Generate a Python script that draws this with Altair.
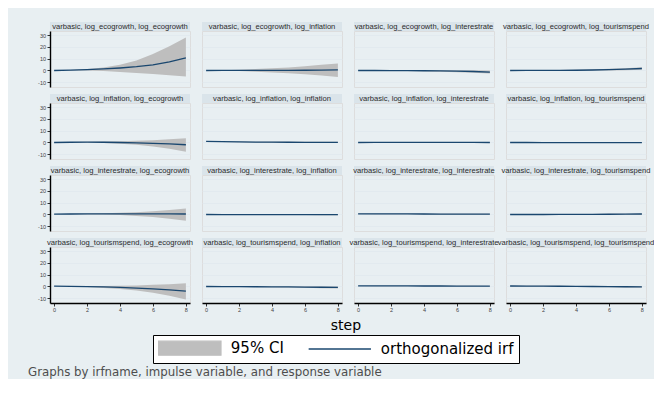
import altair as alt
import pandas as pd

STEPS = [0, 1, 2, 3, 4, 5, 6, 7, 8]
VARS = ["log_ecogrowth", "log_inflation", "log_interestrate", "log_tourismspend"]
SERIES = ["95% CI", "orthogonalized irf"]
Y_TICKS = [-10, 0, 10, 20, 30]
X_TICKS = [0, 2, 4, 6, 8]
NOTE = "Graphs by irfname, impulse variable, and response variable"

# rows = impulse, cols = response; 9 steps each
IRF = [
    [[0, 0.3, 0.7, 1.3, 2.1, 3.2, 4.8, 7.3, 10.8],
     [0, 0.05, 0.1, 0.1, 0.1, 0.15, 0.2, 0.3, 0.5],
     [0, 0, -0.05, -0.1, -0.2, -0.35, -0.55, -0.85, -1.3],
     [0, 0.02, 0.05, 0.1, 0.2, 0.4, 0.7, 1.1, 1.7]],
    [[0, 0.2, 0.3, 0.2, 0.0, -0.3, -0.7, -1.2, -1.9],
     [1.0, 0.7, 0.5, 0.35, 0.25, 0.2, 0.15, 0.1, 0.1],
     [0, 0.05, 0.05, 0.05, 0.05, 0.04, 0.03, 0.02, 0.0],
     [0, -0.02, -0.05, -0.05, -0.05, -0.05, -0.05, -0.05, -0.05]],
    [[0.3, 0.4, 0.45, 0.5, 0.5, 0.5, 0.5, 0.45, 0.4],
     [0, -0.05, -0.1, -0.1, -0.1, -0.1, -0.1, -0.1, -0.1],
     [0.6, 0.55, 0.5, 0.45, 0.4, 0.38, 0.35, 0.32, 0.3],
     [0, 0, 0, 0.05, 0.1, 0.15, 0.2, 0.3, 0.4]],
    [[0.3, 0.1, -0.1, -0.4, -0.8, -1.3, -2.0, -2.9, -3.9],
     [0, -0.05, -0.1, -0.2, -0.3, -0.4, -0.5, -0.65, -0.8],
     [0.5, 0.5, 0.45, 0.45, 0.4, 0.4, 0.35, 0.35, 0.3],
     [0.4, 0.35, 0.3, 0.2, 0.1, 0.0, -0.1, -0.2, -0.3]],
]
LO = [
    [[0, 0, -0.1, -0.5, -1.2, -2.1, -3.0, -4.0, -5.0],
     [0, -0.2, -0.5, -1.0, -1.6, -2.3, -3.2, -4.3, -5.5],
     [0, -0.1, -0.3, -0.45, -0.7, -1.0, -1.4, -1.9, -2.6],
     [0, -0.05, -0.1, -0.15, -0.2, -0.1, 0, 0.2, 0.6]],
    [[0, 0, -0.1, -0.5, -1.1, -2.0, -3.3, -5.2, -7.8],
     [0.8, 0.45, 0.2, 0.0, -0.15, -0.2, -0.3, -0.4, -0.4],
     [0, -0.15, -0.2, -0.25, -0.3, -0.32, -0.35, -0.38, -0.4],
     [0, -0.15, -0.2, -0.25, -0.3, -0.32, -0.35, -0.38, -0.4]],
    [[0.3, 0.2, 0.1, -0.1, -0.5, -1.2, -2.2, -3.6, -5.3],
     [0, -0.2, -0.3, -0.35, -0.4, -0.45, -0.5, -0.55, -0.6],
     [0.4, 0.3, 0.2, 0.15, 0.1, 0.05, 0.0, -0.05, -0.1],
     [0, -0.1, -0.15, -0.15, -0.15, -0.15, -0.15, -0.1, -0.1]],
    [[0.3, -0.1, -0.5, -1.2, -2.2, -3.5, -5.3, -7.8, -11.0],
     [0, -0.15, -0.3, -0.5, -0.7, -0.9, -1.1, -1.4, -1.7],
     [0.35, 0.3, 0.25, 0.25, 0.2, 0.2, 0.15, 0.15, 0.1],
     [0.2, 0.1, 0.0, -0.15, -0.3, -0.45, -0.6, -0.75, -0.9]],
]
HI = [
    [[0, 0.5, 1.3, 2.6, 4.8, 8.5, 14.0, 20.5, 28.0],
     [0, 0.3, 0.7, 1.2, 1.8, 2.6, 3.6, 4.8, 6.0],
     [0, 0.1, 0.2, 0.25, 0.3, 0.3, 0.3, 0.2, 0.0],
     [0, 0.1, 0.2, 0.35, 0.6, 0.9, 1.4, 2.0, 2.8]],
    [[0, 0.4, 0.7, 0.9, 1.1, 1.4, 1.9, 2.7, 3.7],
     [1.2, 0.95, 0.8, 0.7, 0.65, 0.6, 0.6, 0.6, 0.6],
     [0, 0.25, 0.3, 0.35, 0.4, 0.4, 0.4, 0.42, 0.4],
     [0, 0.1, 0.1, 0.15, 0.2, 0.22, 0.25, 0.28, 0.3]],
    [[0.3, 0.6, 0.8, 1.0, 1.4, 2.0, 2.8, 3.8, 5.0],
     [0, 0.1, 0.1, 0.15, 0.2, 0.25, 0.3, 0.35, 0.4],
     [0.8, 0.8, 0.8, 0.75, 0.7, 0.7, 0.7, 0.7, 0.7],
     [0, 0.1, 0.15, 0.25, 0.35, 0.45, 0.55, 0.7, 0.9]],
    [[0.3, 0.3, 0.35, 0.45, 0.6, 0.9, 1.4, 2.0, 2.8],
     [0, 0.05, 0.1, 0.1, 0.1, 0.1, 0.1, 0.1, 0.1],
     [0.65, 0.7, 0.65, 0.65, 0.6, 0.6, 0.55, 0.55, 0.5],
     [0.6, 0.6, 0.6, 0.55, 0.5, 0.45, 0.4, 0.35, 0.3]],
]

BG = "#e8eff2"
STRIP = "#dae4ea"
GRID = "#dfe8ed"
NAVY = "#1a476f"
GRAY = "#bebebe"
FONT = "DejaVu Sans"
SFONT = "Liberation Sans"
W, H = 140, 56

RECT_PATH = "M-4.45,-1H4.45V1H-4.45Z"
LINE_PATH = "M-4.45,0H4.45"

xs = alt.Scale(domain=[-0.25, 8.25], nice=False, zero=False)
ys = alt.Scale(domain=[-14, 33.5], nice=False, zero=False)

LEG = alt.Legend(
    title=None, orient="none", legendX=103, legendY=304, direction="horizontal",
    fillColor="white", strokeColor="black", padding=5,
    symbolSize=196, symbolStrokeWidth=1.3, symbolOffset=23.8,
    labelOffset=33, columnPadding=22, labelFontSize=15, labelFont=FONT,
    labelColor="black",
)


def y_axis(c):
    if c == 0:
        return alt.Axis(values=Y_TICKS, title=None, labelFontSize=5.5, labelColor="#444",
                        labelExpr="'' + datum.value", labelOverlap=False, labelFlush=False,
                        tickColor="black", tickSize=3,
                        tickWidth=0.8, domainColor="black", domainWidth=1.4,
                        gridColor=GRID, gridWidth=0.8, labelPadding=1.5, labelFont=SFONT)
    return alt.Axis(values=Y_TICKS, title=None, labels=False, ticks=False,
                    domain=False, gridColor=GRID, gridWidth=0.8)


def x_axis(r):
    if r == 3:
        return alt.Axis(values=X_TICKS, title=None, grid=False, labelFontSize=5.5,
                        labelColor="#444", labelOverlap=False, labelFlush=False,
                        tickColor="black", tickSize=3, tickWidth=0.8,
                        domainColor="black", domainWidth=1.4, labelPadding=1.5,
                        labelFont=SFONT)
    return None


def panel(r, c):
    df = pd.DataFrame({"step": STEPS, "irf": IRF[r][c], "lo": LO[r][c], "hi": HI[r][c]})
    base = alt.Chart(df)
    yaxis = y_axis(c)
    x = alt.X("step:Q", scale=xs, axis=x_axis(r))
    area = base.mark_area(color=GRAY, opacity=1).encode(
        x=x, y=alt.Y("lo:Q", scale=ys, axis=yaxis), y2="hi:Q")
    line = base.mark_line(color=NAVY, strokeWidth=1.3).encode(
        x=x, y=alt.Y("irf:Q", scale=ys, axis=yaxis))
    tdf = pd.DataFrame({"t": [f"varbasic, {VARS[r]}, {VARS[c]}"]})
    strip = alt.Chart(tdf).mark_rect(color=STRIP).encode(
        x=alt.value(0), x2=alt.value(W), y=alt.value(-9), y2=alt.value(0))
    text = alt.Chart(tdf).mark_text(fontSize=7.6, font=SFONT, color="#2b2b2b",
                                    baseline="middle", align="center").encode(
        text="t:N", x=alt.value(W / 2), y=alt.value(-4.3))
    layers = [area, line, strip, text]
    if r == 0 and c == 0:
        ldf = pd.DataFrame({"series": SERIES, "step": [0, 0], "v": [1000, 1000]})
        leg = alt.Chart(ldf).mark_point(filled=True, opacity=1, clip=True,
                                        strokeWidth=1.3).encode(
            x=x,
            y=alt.Y("v:Q", scale=ys, axis=yaxis),
            shape=alt.Shape("series:N", scale=alt.Scale(domain=SERIES, range=[RECT_PATH, LINE_PATH]), legend=LEG),
            fill=alt.Fill("series:N", scale=alt.Scale(domain=SERIES, range=[GRAY, NAVY]), legend=LEG),
            stroke=alt.Stroke("series:N", scale=alt.Scale(domain=SERIES, range=[GRAY, NAVY]), legend=LEG),
        )
        layers.append(leg)
    return alt.layer(*layers).properties(width=W, height=H)


panels = [panel(r, c) for r in range(4) for c in range(4)]
grid = alt.concat(*panels, columns=4, spacing=alt.RowColnumber(row=16, column=12),
                  bounds="flush").properties(
    title=alt.TitleParams("step", orient="bottom", anchor="middle", fontSize=14,
                          font=FONT, fontWeight="normal", color="black", offset=5))

chart = alt.vconcat(grid).properties(
    title=alt.TitleParams(NOTE, orient="bottom", anchor="start", frame="group", fontSize=11.8,
                          font=FONT, fontWeight="normal", color="#4d4d4d", offset=3, dx=-22),
    padding={"left": 20, "top": 13, "right": -1, "bottom": 0},
    background=BG,
).configure_view(fill="white", strokeWidth=0).configure(font=FONT)

chart.save("out.html", embed_options={"renderer": "svg", "actions": False})
